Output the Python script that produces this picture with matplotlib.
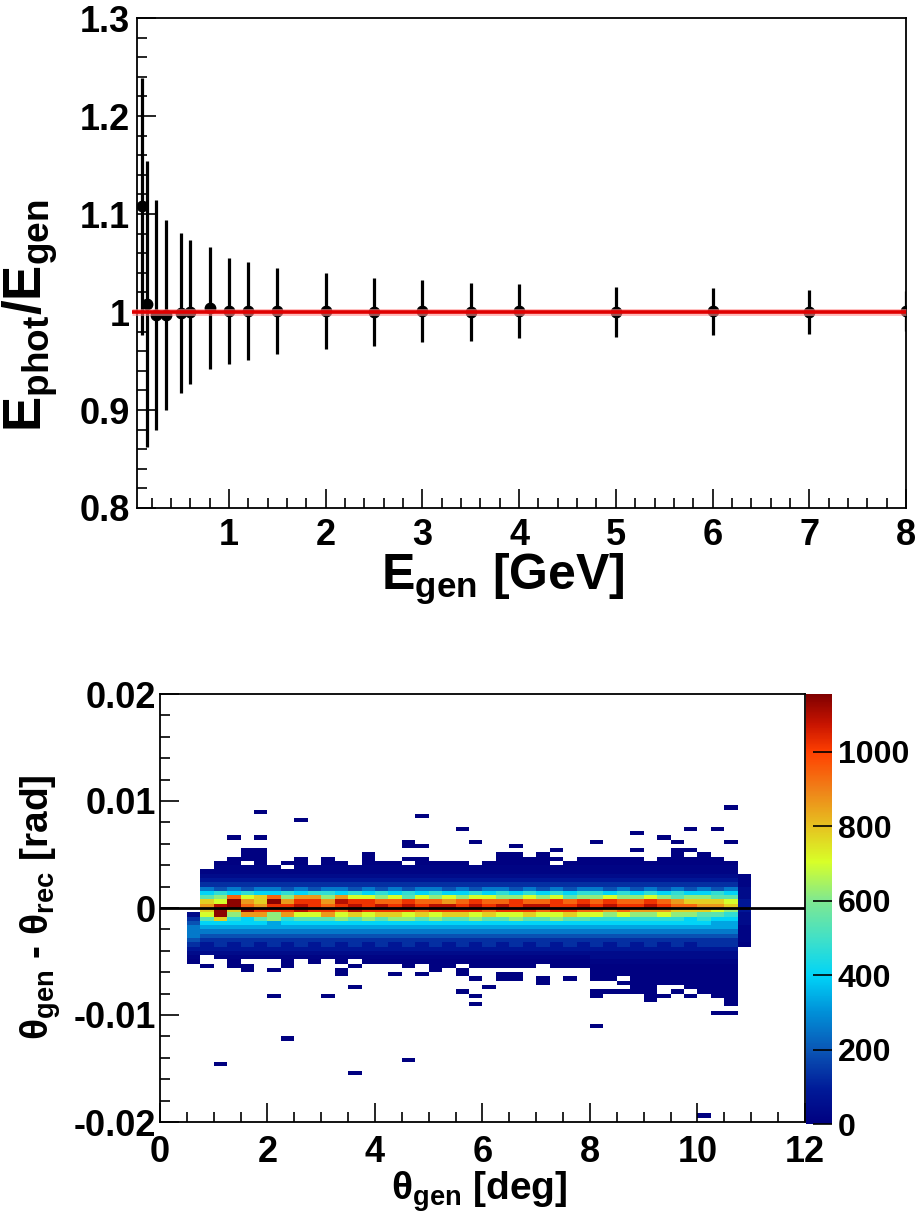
import numpy as np
import matplotlib
matplotlib.use("Agg")
import matplotlib.pyplot as plt
from matplotlib.colors import LinearSegmentedColormap
from matplotlib.ticker import MultipleLocator, FixedLocator, FixedFormatter

plt.rcParams['font.family'] = ['Liberation Sans', 'DejaVu Sans']
plt.rcParams['font.weight'] = 'bold'
plt.rcParams['mathtext.fontset'] = 'custom'
plt.rcParams['mathtext.rm'] = 'Liberation Sans:bold'
plt.rcParams['mathtext.it'] = 'Liberation Sans:bold'
plt.rcParams['mathtext.bf'] = 'Liberation Sans:bold'
plt.rcParams['mathtext.default'] = 'rm'

# ---------------- top panel data ----------------
e_gen = [0.1, 0.15, 0.25, 0.35, 0.5, 0.6, 0.8, 1.0, 1.2, 1.5, 2.0, 2.5, 3.0, 3.5, 4.0, 5.0, 6.0, 7.0, 8.0]
ratio = [1.108, 1.008, 0.997, 0.997, 0.999, 1.000, 1.004, 1.001, 1.001, 1.001, 1.001, 1.000, 1.001,
         1.000, 1.001, 1.000, 1.001, 1.000, 1.001]
ratio_err = [0.131, 0.146, 0.117, 0.097, 0.082, 0.073, 0.062, 0.054, 0.050, 0.044, 0.039, 0.035, 0.032,
             0.030, 0.028, 0.026, 0.024, 0.022, 0.020]
fit_level = 1.0
fit_range = [0.0, 8.0]
top_yticks = [0.8, 0.9, 1.0, 1.1, 1.2, 1.3]
top_yticklabels = ["0.8", "0.9", "1", "1.1", "1.2", "1.3"]
top_xticks = [1, 2, 3, 4, 5, 6, 7, 8]
top_xticklabels = ["1", "2", "3", "4", "5", "6", "7", "8"]

# ---------------- bottom panel data ----------------
# 2D histogram: theta bins 0.25 deg, delta-theta bins 0.0004 rad
theta_bin = 0.25
dtheta_bin = 0.0004
grid_theta0 = 0.5          # left edge of column 0
grid_top_row = 13          # row index of first string (row k covers [k*bin, (k+1)*bin])
level_counts = {'.': 0, '1': 3, '2': 15, '3': 40, '4': 80, '5': 130, '6': 190, '7': 260, '8': 330,
                '9': 400, 'A': 470, 'B': 540, 'C': 620, 'D': 700, 'E': 780, 'F': 860, 'G': 940,
                'H': 1020, 'I': 1090, 'J': 1140}
grid_rows = [
    "....11...." ".........." ".......1.." "...1..11.." "..",   # k=13
    "....11...." "...1......" "...11.1..." "......1.1." "..",   # k=12
    "...111..1." "1..1..11.." "...11111.1" "1111.11111" "..",   # k=11
    "..11.1.11." "11.111.111" "1.11111.11" "1111111111" "1.",   # k=10
    "..22222.22" "2222222222" "2222222222" "2222222222" "2.",   # k=9
    ".222222222" "2222222222" "2222222222" "2222222222" "2.",   # k=8
    ".333333333" "3333333333" "3333333333" "3333333333" "32",   # k=7
    ".444444444" "4444444444" "4444444444" "4444444444" "42",   # k=6
    ".555555555" "5555555555" "5555555555" "5555555555" "52",   # k=5
    ".767677676" "7767676776" "7677676767" "7676767676" "73",   # k=4
    ".9A9A99A9A" "A9A9A9A9A9" "9A9A9A9A9A" "A9A9A9A99A" "93",   # k=3
    ".BCGDEGCFF" "CFDDCDBDCD" "CDDCCDCDBC" "CDCCDCBCCB" "B3",   # k=2
    ".EDJFEJFHH" "FIHHGGHGGF" "GHGGHGGHGH" "GHGGHGFEEE" "D4",   # k=1
    ".FIJGFHHIH" "GHIHIHIHII" "HIHIHIIHHI" "HIHHIHGGFF" "E4",   # k=0
    ".EJEJHHHIH" "HGIHHHHGHH" "HHGHHHGHHG" "GFGFFFEEED" "C4",   # k=-1
    "3DJCFFCFDD" "FDEDEEDEDE" "EDEDDEDDED" "DCDCCDCCBB" "A3",   # k=-2
    "5BEA9BCABB" "BCBCBCCBCB" "BCBBCBBCBB" "AAAAAAA9A9" "93",   # k=-3
    "6999998999" "9999999999" "9999999999" "9999999998" "83",   # k=-4
    "7888888888" "8888888888" "8888888888" "8888888888" "82",   # k=-5
    "7777777777" "7777777777" "7777777777" "7777777777" "72",   # k=-6
    "7666666666" "6666666666" "6666666666" "6666666666" "62",   # k=-7
    "6555555555" "5555555555" "5555555555" "5555555555" "52",   # k=-8
    "5454545454" "5454545454" "5454545454" "5454545455" "51",   # k=-9
    "4444444444" "4444444444" "4444444444" "4444444444" "4.",   # k=-10
    "3333333333" "3333333333" "3333333333" "3333333333" "3.",   # k=-11
    "2.22222222" "2222222222" "2222222222" "3333333333" "3.",   # k=-12
    "1..1...1.1" ".1.1111111" "1111111111" "2222222222" "2.",   # k=-13
    ".1.11..1.." "..1...1.11" ".11111.111" "1111111111" "1.",   # k=-14
    "....1.1..." ".1......1." "1........." "1111111111" "1.",   # k=-15
    ".........." ".1...1.1.." "1..11....." "1111111111" "1.",   # k=-16
    ".........." ".........." ".1.11.1.1." "11.1111111" "1.",   # k=-17
    ".........." ".........." "......1..." "..11111111" "1.",   # k=-18
    ".........." "..1......." "..1......." "...11..111" "1.",   # k=-19
    ".........." ".........." "1........." "11111.1.11" "1.",   # k=-20
    "......1..." "1........." ".1........" "1...11.1.1" "1.",   # k=-21
    ".........." ".........." ".........." "....1....." "1.",   # k=-22
    ".........." ".........." ".1........" ".........." "1.",   # k=-23
]
# isolated single entries away from the band
far_theta = [10.625, 1.875, 4.875, 2.625, 5.625, 9.875, 10.375, 8.875, 1.375, 1.875, 9.375,
             4.625, 5.875, 8.125, 9.625, 10.625, 4.625, 4.875, 6.625,
             10.375, 10.625, 8.125, 2.375, 4.625, 1.125, 3.625, 10.125]
far_dtheta = [0.0094, 0.0090, 0.0086, 0.0082, 0.0074, 0.0074, 0.0074, 0.0070, 0.0066, 0.0066, 0.0066,
              0.0062, 0.0062, 0.0062, 0.0062, 0.0062, 0.0058, 0.0058, 0.0058,
              -0.0098, -0.0098, -0.0110, -0.0122, -0.0142, -0.0146, -0.0154, -0.0194]
far_counts = [1] * len(far_theta)

bot_yticks = [-0.02, -0.01, 0.0, 0.01, 0.02]
bot_yticklabels = ["-0.02", "-0.01", "0", "0.01", "0.02"]
bot_xticks = [0, 2, 4, 6, 8, 10, 12]
cbar_ticks = [0, 200, 400, 600, 800, 1000]
cbar_max = 1155

palette_colors = ["#000080", "#001a98", "#0a55b5", "#0090d8", "#00d4f8", "#40e0c8", "#80e890",
                  "#d8ff28", "#e6c020", "#f08018", "#ff4000", "#c81400", "#800000"]
palette_pos = [0.0, 0.08, 0.17, 0.26, 0.345, 0.43, 0.52, 0.61, 0.695, 0.78, 0.865, 0.93, 1.0]

# ---------------- decode histogram ----------------
cell_theta, cell_dtheta, cell_w = [], [], []
for r, row in enumerate(grid_rows):
    row = row.ljust(42, '.')[:42]
    k = grid_top_row - r
    for j, ch in enumerate(row):
        c = level_counts.get(ch, 0)
        if c > 0:
            cell_theta.append(grid_theta0 + theta_bin * (j + 0.5))
            cell_dtheta.append(dtheta_bin * (k + 0.5))
            cell_w.append(c)
cell_theta += far_theta
cell_dtheta += far_dtheta
cell_w += far_counts

theta_edges = np.arange(0, 12 + theta_bin / 2, theta_bin)
dtheta_edges = np.linspace(-0.02, 0.02, 101)

# ---------------- figure ----------------
W, H = 920, 1220
fig = plt.figure(figsize=(W / 100, H / 100), dpi=100)
fig.patch.set_facecolor('white')


def fx(px):
    return px / W


def fy(py):
    return 1 - py / H


# ---- top panel ----
ax1 = fig.add_axes([fx(137), fy(508), fx(906) - fx(137), fy(18) - fy(508)])
ax1.errorbar(e_gen, ratio, yerr=ratio_err, fmt='o', color='black', ms=7.5, elinewidth=2.3,
             capsize=0, zorder=3)
ax1.plot(fit_range, [fit_level, fit_level], color='#ff9090', lw=5, zorder=4, clip_on=False,
         solid_capstyle='butt', alpha=0.6)
ax1.plot(fit_range, [fit_level, fit_level], color='#e00000', lw=2.6, zorder=5, clip_on=False,
         solid_capstyle='butt')
ax1.set_xlim(0.05, 8.0)
ax1.set_ylim(0.8, 1.3)
ax1.yaxis.set_major_locator(FixedLocator(top_yticks))
ax1.yaxis.set_major_formatter(FixedFormatter(top_yticklabels))
ax1.yaxis.set_minor_locator(MultipleLocator(0.02))
ax1.xaxis.set_major_locator(FixedLocator(top_xticks))
ax1.xaxis.set_major_formatter(FixedFormatter(top_xticklabels))
ax1.xaxis.set_minor_locator(MultipleLocator(0.2))
ax1.tick_params(which='both', direction='in', top=False, right=False, width=1.2)
ax1.tick_params(which='major', length=13.5)
ax1.tick_params(which='minor', length=7)
ax1.tick_params(axis='y', which='major', labelsize=26, pad=5)
ax1.tick_params(axis='x', which='major', labelsize=26, pad=7)
for s in ax1.spines.values():
    s.set_linewidth(1.3)

fig.text(fx(30), fy(316), r"E$_{phot}$/E$_{gen}$", rotation=90, ha='center', va='center',
         fontsize=38, fontweight='bold')
fig.text(fx(503), fy(590), r"E$_{gen}$ [GeV]", ha='center', va='baseline',
         fontsize=36, fontweight='bold')

# ---- bottom panel ----
cmap = LinearSegmentedColormap.from_list("rootrainbow", list(zip(palette_pos, palette_colors)), N=512)
ax2 = fig.add_axes([fx(160), fy(1122), fx(805) - fx(160), fy(694) - fy(1122)])
hist = ax2.hist2d(cell_theta, cell_dtheta, bins=[theta_edges, dtheta_edges], weights=cell_w,
                  cmap=cmap, vmin=0, vmax=cbar_max, cmin=0.5)
ax2.axhline(0.0, color='black', lw=2.0, zorder=5)
ax2.set_xlim(0, 12)
ax2.set_ylim(-0.02, 0.02)
ax2.xaxis.set_major_locator(FixedLocator(bot_xticks))
ax2.xaxis.set_minor_locator(MultipleLocator(0.5))
ax2.yaxis.set_major_locator(FixedLocator(bot_yticks))
ax2.yaxis.set_major_formatter(FixedFormatter(bot_yticklabels))
ax2.yaxis.set_minor_locator(MultipleLocator(0.002))
ax2.tick_params(which='both', direction='in', top=False, right=False, width=1.2)
ax2.tick_params(which='major', length=13.5)
ax2.tick_params(which='minor', length=7)
ax2.tick_params(axis='y', which='major', labelsize=26, pad=3)
ax2.tick_params(axis='x', which='major', labelsize=26, pad=9)
for s in ax2.spines.values():
    s.set_linewidth(1.3)

fig.text(fx(479), fy(1200), r"θ$_{gen}$ [deg]", ha='center', va='baseline',
         fontsize=28, fontweight='bold')
fig.text(fx(41), fy(907), r"θ$_{gen}$ - θ$_{rec}$ [rad]", rotation=90, ha='center', va='center',
         fontsize=28, fontweight='bold')

cax = fig.add_axes([fx(806), fy(1124), fx(832) - fx(806), fy(694) - fy(1124)])
cb = fig.colorbar(hist[3], cax=cax, ticks=cbar_ticks)
cb.outline.set_visible(False)
cax.tick_params(direction='in', length=13.5, width=1.2, labelsize=23, pad=4)

fig.savefig("out.png", dpi=100)
